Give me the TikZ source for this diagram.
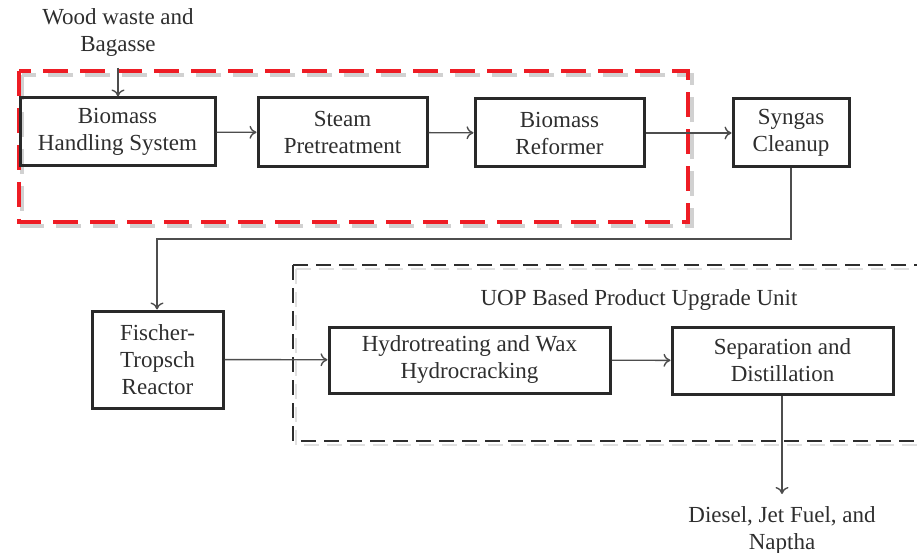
\documentclass[tikz,border=0pt]{standalone}
\usepackage{fontspec}
\setmainfont{Liberation Serif}
\usetikzlibrary{arrows.meta}
\definecolor{ink}{HTML}{2E2E2E}
\definecolor{dashred}{HTML}{EE1C24}
\tikzset{
  box/.style={draw=ink!90!black, line width=3pt, rectangle, align=center,
    text=ink, inner sep=0pt, font=\fontsize{23}{27}\selectfont},
  lbl/.style={align=center, text=ink, inner sep=0pt, font=\fontsize{23}{27}\selectfont},
  flow/.style={draw=ink!85, line width=1.4pt, -{To[length=7pt,width=13pt]}},
  frame/.style={line width=3.6pt, dash pattern=on 25pt off 12pt},
  blackframe/.style={line width=2.8pt, dash pattern=on 15pt off 8pt},
  halo/.style={draw=black!18, line width=4pt}
}
\begin{document}
\begin{tikzpicture}[x=1pt,y=-1pt]
\useasboundingbox (0,0) rectangle (917,553);

% grouping frames, each with a soft offset shadow
\draw[halo, frame] (22,75) rectangle (692,226);
\draw[frame, draw=dashred] (19,71) rectangle (688,222);
\draw[halo, blackframe, draw=black!12] (296,269) rectangle (921,445);
\draw[blackframe, draw=ink] (293,265) rectangle (918,441);

% upper process line
\node[lbl] (feed) at (118,33) {Wood waste and\\Bagasse};
\node[box, minimum width=195, minimum height=68] (bhs) at (117.5,132) {Biomass\\Handling System};
\node[box, minimum width=169, minimum height=69] (stp) at (342.5,132.5) {Steam\\Pretreatment};
\node[box, minimum width=169, minimum height=68] (ref) at (559.5,133) {Biomass\\Reformer};
\node[box, minimum width=116, minimum height=68] (syn) at (791,133) {Syngas\\Cleanup};

% lower process line
\node[box, minimum width=131, minimum height=97] (ft) at (157.5,359.5) {Fischer-\\Tropsch\\Reactor};
\node[lbl] (uop) at (639,300) {UOP Based Product Upgrade Unit};
\node[box, minimum width=281, minimum height=66] (hyd) at (469.5,360) {Hydrotreating and Wax\\Hydrocracking};
\node[box, minimum width=221, minimum height=67] (sep) at (782.5,360.5) {Separation and\\Distillation};
\node[lbl] (prod) at (782,530) {Diesel, Jet Fuel, and\\Naptha};

\coordinate (feedend) at (118,68);
\coordinate (bend1) at (791,239);
\coordinate (bend2) at (157,239);
\coordinate (prodend) at (782,494);

% connectors
\draw[flow] (feedend) -- (bhs.north -| feedend);
\draw[flow] (bhs) -- (stp);
\draw[flow] (stp) -- (ref);
\draw[flow] (ref) -- (syn);
\draw[flow] (syn.south) -- (bend1) -- (bend2) -- (ft.north -| bend2);
\draw[flow] (ft) -- (hyd);
\draw[flow] (hyd) -- (sep);
\draw[flow] (sep.south -| prodend) -- (prodend);
\end{tikzpicture}
\end{document}
